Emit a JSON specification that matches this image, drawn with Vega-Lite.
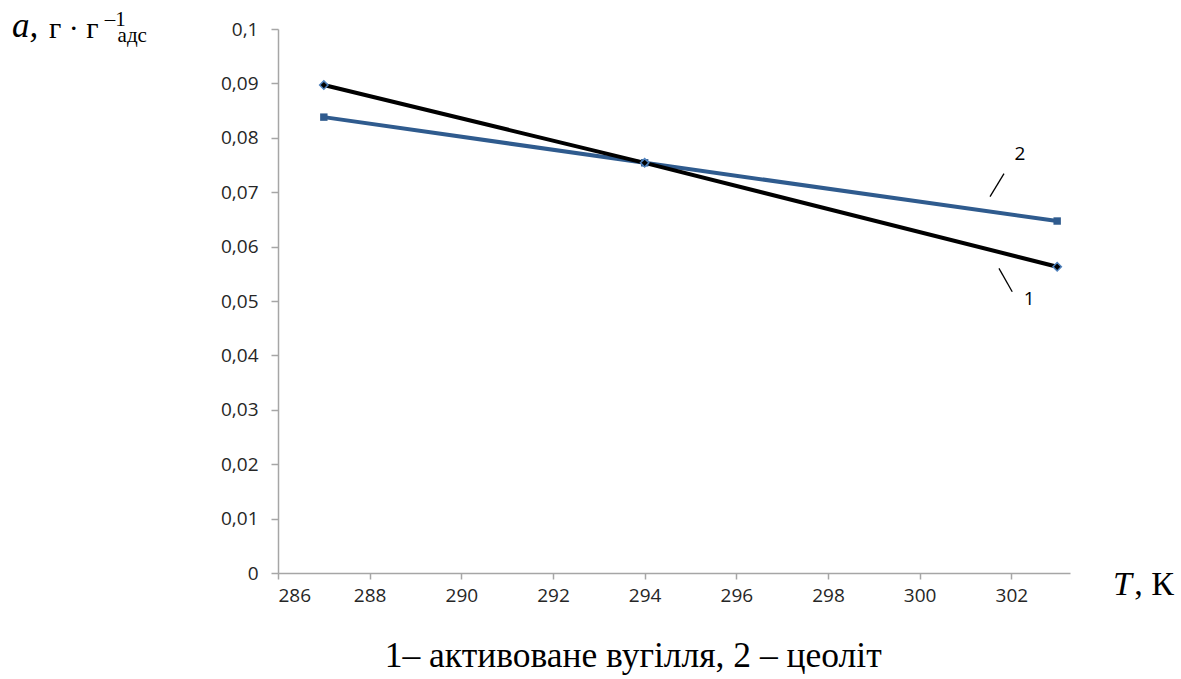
{
  "$schema": "https://vega.github.io/schema/vega-lite/v6.json",
  "autosize": {"type": "none"},
  "padding": {"left": 278, "top": 29, "right": 111, "bottom": 106},
  "width": 792,
  "height": 544,
  "background": "white",
  "config": {
    "view": {"stroke": null},
    "axis": {
      "grid": false,
      "domainColor": "#A6A6A6",
      "domainWidth": 1.5,
      "tickColor": "#A6A6A6",
      "tickWidth": 1.5,
      "labelFont": "Open Sans",
      "labelFontSize": 19,
      "labelColor": "#262626",
      "title": null
    }
  },
  "datasets": {
    "series": [
      {"T": 287, "a": 0.0897, "s": "1"},
      {"T": 294, "a": 0.0754, "s": "1"},
      {"T": 303, "a": 0.0563, "s": "1"},
      {"T": 287, "a": 0.0838, "s": "2"},
      {"T": 294, "a": 0.0754, "s": "2"},
      {"T": 303, "a": 0.0647, "s": "2"}
    ]
  },
  "layer": [
    {
      "data": {"name": "series"},
      "transform": [{"filter": "datum.s == '2'"}],
      "mark": {"type": "line", "color": "#2F5B8E", "strokeWidth": 4},
      "encoding": {
        "x": {"field": "T", "type": "quantitative",
          "scale": {"domain": [286, 303.28], "nice": false, "zero": false},
          "axis": {"values": [286, 288, 290, 292, 294, 296, 298, 300, 302], "tickSize": 6, "labelPadding": 7, "title": null}},
        "y": {"field": "a", "type": "quantitative",
          "scale": {"domain": [0, 0.1], "nice": false},
          "axis": {"values": [0, 0.01, 0.02, 0.03, 0.04, 0.05, 0.06, 0.07, 0.08, 0.09, 0.1], "tickSize": 7, "labelPadding": 13,
            "labelExpr": "replace(format(datum.value, '~g'), '.', ',')", "title": null}}
      }
    },
    {
      "data": {"name": "series"},
      "transform": [{"filter": "datum.s == '1'"}],
      "mark": {"type": "line", "color": "#000000", "strokeWidth": 4},
      "encoding": {
        "x": {"field": "T", "type": "quantitative"},
        "y": {"field": "a", "type": "quantitative"}
      }
    },
    {
      "data": {"name": "series"},
      "transform": [{"filter": "datum.s == '2'"}],
      "mark": {"type": "point", "shape": "square", "filled": true, "color": "#2F5B8E", "size": 55, "opacity": 1},
      "encoding": {
        "x": {"field": "T", "type": "quantitative"},
        "y": {"field": "a", "type": "quantitative"}
      }
    },
    {
      "data": {"name": "series"},
      "transform": [{"filter": "datum.s == '1'"}],
      "mark": {"type": "point", "shape": "diamond", "filled": true, "fill": "#000000", "stroke": "#4F81BD", "strokeWidth": 1.5, "size": 70, "opacity": 1},
      "encoding": {
        "x": {"field": "T", "type": "quantitative"},
        "y": {"field": "a", "type": "quantitative"}
      }
    },
    {
      "data": {"values": [
        {"T": 301.535, "a": 0.0692, "T2": 301.84, "a2": 0.0734},
        {"T": 301.73, "a": 0.0560, "T2": 302.02, "a2": 0.0517}
      ]},
      "mark": {"type": "rule", "color": "#000000", "strokeWidth": 1.3},
      "encoding": {
        "x": {"field": "T", "type": "quantitative"},
        "y": {"field": "a", "type": "quantitative"},
        "x2": {"field": "T2"},
        "y2": {"field": "a2"}
      }
    },
    {
      "data": {"values": [
        {"T": 302.19, "a": 0.0771, "label": "2"},
        {"T": 302.39, "a": 0.0503, "label": "1"}
      ]},
      "mark": {"type": "text", "font": "Open Sans", "fontSize": 19, "color": "#000000", "align": "center", "baseline": "middle"},
      "encoding": {
        "x": {"field": "T", "type": "quantitative"},
        "y": {"field": "a", "type": "quantitative"},
        "text": {"field": "label"}
      }
    },
    {
      "data": {"values": [{"T": 280.196, "a": 0.0986, "label": "a,"}]},
      "mark": {"type": "text", "font": "Liberation Serif", "fontStyle": "italic", "fontSize": 35, "color": "#000000", "align": "left", "baseline": "alphabetic"},
      "encoding": {
        "x": {"field": "T", "type": "quantitative"},
        "y": {"field": "a", "type": "quantitative"},
        "text": {"field": "label"}
      }
    },
    {
      "data": {"values": [{"T": 281.003, "a": 0.0984, "label": "г · г"}]},
      "mark": {"type": "text", "font": "Liberation Serif", "fontSize": 30, "color": "#000000", "align": "left", "baseline": "alphabetic"},
      "encoding": {
        "x": {"field": "T", "type": "quantitative"},
        "y": {"field": "a", "type": "quantitative"},
        "text": {"field": "label"}
      }
    },
    {
      "data": {"values": [{"T": 282.22, "a": 0.10055, "label": "–1"}]},
      "mark": {"type": "text", "font": "Liberation Serif", "fontSize": 21, "color": "#000000", "align": "left", "baseline": "alphabetic"},
      "encoding": {
        "x": {"field": "T", "type": "quantitative"},
        "y": {"field": "a", "type": "quantitative"},
        "text": {"field": "label"}
      }
    },
    {
      "data": {"values": [{"T": 282.5, "a": 0.0977, "label": "адс"}]},
      "mark": {"type": "text", "font": "Liberation Serif", "fontSize": 21, "color": "#000000", "align": "left", "baseline": "alphabetic"},
      "encoding": {
        "x": {"field": "T", "type": "quantitative"},
        "y": {"field": "a", "type": "quantitative"},
        "text": {"field": "label"}
      }
    },
    {
      "data": {"values": [{"T": 304.22, "a": -0.0040, "label": "T"}]},
      "mark": {"type": "text", "font": "Liberation Serif", "fontStyle": "italic", "fontSize": 34, "color": "#000000", "align": "left", "baseline": "alphabetic"},
      "encoding": {
        "x": {"field": "T", "type": "quantitative"},
        "y": {"field": "a", "type": "quantitative"},
        "text": {"field": "label"}
      }
    },
    {
      "data": {"values": [{"T": 304.68, "a": -0.0040, "label": ", К"}]},
      "mark": {"type": "text", "font": "Liberation Serif", "fontSize": 34, "color": "#000000", "align": "left", "baseline": "alphabetic"},
      "encoding": {
        "x": {"field": "T", "type": "quantitative"},
        "y": {"field": "a", "type": "quantitative"},
        "text": {"field": "label"}
      }
    },
    {
      "data": {"values": [{"T": 293.75, "a": -0.0172, "label": "1– активоване вугілля, 2 – цеоліт"}]},
      "mark": {"type": "text", "font": "Liberation Serif", "fontSize": 35.5, "color": "#000000", "align": "center", "baseline": "alphabetic"},
      "encoding": {
        "x": {"field": "T", "type": "quantitative"},
        "y": {"field": "a", "type": "quantitative"},
        "text": {"field": "label"}
      }
    }
  ]
}
